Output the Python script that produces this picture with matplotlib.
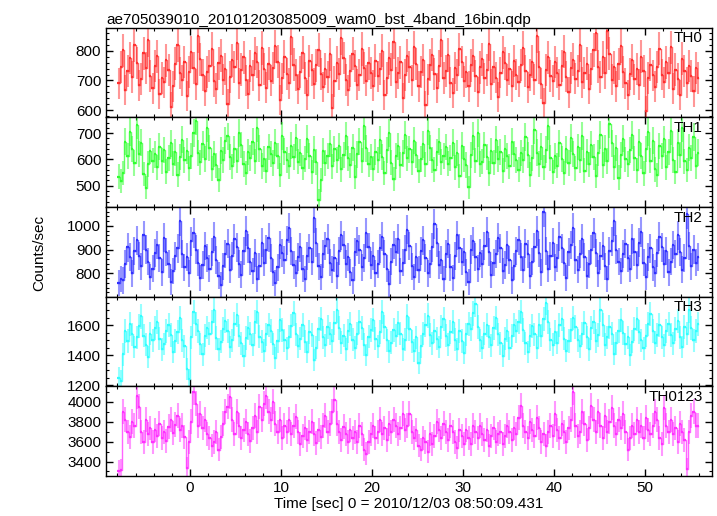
"""
WAM burst light curve, 4 energy bands + sum (QDP-style stacked panels).
"""

import matplotlib

matplotlib.use("Agg")
import matplotlib.pyplot as plt  # noqa: E402
import numpy as np  # noqa: E402
from matplotlib.ticker import MultipleLocator  # noqa: E402

plt.rcParams["font.family"] = ["Liberation Sans", "DejaVu Sans"]

TITLE = "ae705039010_20101203085009_wam0_bst_4band_16bin.qdp"
XLABEL = "Time [sec] 0 = 2010/12/03 08:50:09.431"
YLABEL = "Counts/sec"

dt = 0.25
t0 = -7.875  # centre of first bin

bands = ["TH0", "TH1", "TH2", "TH3", "TH0123"]

th0 = [
    690, 745, 802, 668, 731, 776, 712, 820, 759, 684, 705, 792, 741, 838, 716, 673,
    748, 782, 655, 709, 694, 768, 735, 612, 680, 757, 819, 726, 701, 763, 649, 728,
    795, 743, 688, 852, 771, 719, 664, 730, 749, 806, 697, 672, 758, 784, 703, 739,
    621, 712, 768, 745, 826, 690, 737, 779, 701, 655, 748, 717, 792, 763, 684, 810,
    738, 676, 757, 699, 742, 815, 764, 633, 707, 781, 722, 690, 846, 754, 718, 671,
    729, 794, 708, 650, 766, 735, 689, 751, 803, 722, 678, 740, 712, 788, 606, 697,
    760, 721, 843, 776, 702, 667, 733, 791, 748, 685, 719, 806, 742, 699, 758, 724,
    683, 767, 714, 739, 801, 652, 708, 775, 737, 829, 694, 726, 761, 640, 718, 783,
    745, 700, 812, 756, 681, 730, 769, 616, 704, 752, 787, 722, 675, 749, 838, 709,
    733, 786, 692, 658, 741, 719, 805, 763, 697, 728, 680, 751, 784, 716, 662, 744,
    771, 707, 735, 824, 688, 746, 710, 643, 727, 795, 758, 702, 739, 681, 766, 720,
    696, 752, 810, 731, 677, 718, 764, 703, 850, 744, 689, 625, 736, 778, 715, 698,
    762, 727, 685, 749, 798, 713, 660, 741, 770, 706, 733, 819, 694, 726, 757, 671,
    738, 804, 860, 747, 712, 779, 725, 866, 790, 703, 744, 681, 756, 817, 729, 690,
    651, 723, 768, 704, 739, 686, 781, 732, 598, 709, 754, 717, 679, 746, 808, 720,
    694, 761, 726, 812, 672, 737, 705, 650, 774, 731, 692, 750, 716, 663, 742, 708,
]

th1 = [
    535, 518, 548, 668, 612, 703, 640, 587, 731, 621, 664, 545, 492, 583, 632, 596,
    619, 571, 648, 594, 636, 553, 607, 661, 584, 627, 542, 610, 676, 598, 633, 566,
    612, 702, 748, 625, 589, 657, 601, 719, 643, 564, 620, 578, 521, 634, 598, 671,
    688, 610, 574, 639, 596, 702, 655, 583, 548, 629, 606, 667, 593, 720, 641, 575,
    603, 558, 647, 621, 586, 664, 612, 541, 689, 630, 598, 575, 652, 609, 683, 592,
    626, 569, 601, 678, 615, 552, 637, 590, 446, 521, 633, 587, 612, 659, 574, 640,
    597, 651, 563, 616, 690, 604, 578, 645, 532, 619, 667, 596, 728, 642, 581, 608,
    565, 629, 597, 674, 611, 549, 636, 702, 588, 527, 615, 650, 579, 623, 694, 604,
    638, 591, 672, 617, 556, 603, 658, 582, 710, 644, 599, 561, 627, 668, 590, 613,
    647, 584, 606, 663, 571, 624, 536, 652, 601, 579, 494, 618, 689, 596, 702, 583,
    592, 655, 609, 547, 633, 588, 676, 603, 628, 558, 641, 612, 574, 668, 621, 597,
    561, 624, 598, 685, 616, 542, 607, 711, 626, 583, 649, 571, 637, 728, 605, 552,
    614, 577, 662, 603, 548, 639, 586, 681, 620, 566, 647, 598, 690, 557, 628, 582,
    656, 611, 538, 625, 693, 579, 641, 595, 735, 662, 571, 644, 531, 618, 679, 600,
    583, 636, 694, 604, 559, 666, 613, 547, 640, 705, 596, 672, 562, 540, 651, 615,
    677, 571, 629, 708, 598, 552, 664, 617, 721, 593, 560, 645, 606, 686, 574, 626,
]

th2 = [
    760, 775, 770, 840, 910, 870, 800, 895, 940, 875, 830, 960, 900, 850, 785, 820,
    885, 920, 865, 805, 950, 890, 840, 765, 810, 875, 905, 1020, 880, 825, 870, 800,
    935, 970, 900, 845, 780, 835, 915, 865, 820, 890, 955, 855, 790, 750, 830, 880,
    925, 815, 875, 945, 910, 840, 795, 895, 980, 905, 850, 810, 885, 775, 830, 930,
    845, 900, 950, 865, 805, 760, 825, 920, 885, 855, 940, 990, 895, 835, 800, 870,
    910, 820, 775, 875, 905, 850, 1035, 930, 830, 785, 880, 915, 945, 845, 815, 865,
    790, 895, 960, 920, 840, 870, 805, 770, 890, 935, 900, 825, 865, 970, 910, 835,
    875, 800, 840, 905, 955, 880, 820, 755, 850, 920, 890, 945, 810, 845, 900, 985,
    915, 830, 785, 870, 815, 895, 940, 865, 800, 840, 910, 1010, 930, 835, 855, 775,
    880, 925, 825, 780, 875, 960, 905, 850, 890, 805, 765, 900, 935, 870, 820, 885,
    840, 915, 975, 890, 795, 845, 880, 950, 905, 810, 835, 920, 855, 770, 830, 895,
    940, 870, 815, 925, 880, 790, 850, 910, 980, 885, 805, 1060, 895, 820, 875, 930,
    825, 865, 955, 905, 845, 780, 890, 920, 990, 855, 815, 880, 945, 870, 790, 840,
    900, 970, 885, 800, 875, 915, 830, 775, 895, 935, 1020, 900, 850, 810, 880, 925,
    865, 820, 945, 890, 835, 930, 975, 845, 785, 870, 905, 825, 800, 885, 955, 910,
    840, 895, 805, 850, 920, 880, 960, 890, 815, 865, 1050, 915, 830, 900, 845, 870,
]

th3 = [
    1250, 1230, 1405, 1560, 1495, 1610, 1540, 1455, 1520, 1595, 1660, 1530, 1470, 1390, 1545, 1500,
    1580, 1625, 1510, 1440, 1475, 1560, 1600, 1535, 1420, 1495, 1555, 1650, 1500, 1460, 1310, 1240,
    1520, 1690, 1610, 1560, 1475, 1405, 1530, 1585, 1545, 1620, 1700, 1515, 1440, 1490, 1575, 1630,
    1560, 1455, 1500, 1610, 1670, 1530, 1480, 1395, 1515, 1580, 1545, 1470, 1620, 1690, 1525, 1490,
    1430, 1540, 1605, 1560, 1475, 1380, 1495, 1635, 1570, 1500, 1445, 1525, 1595, 1680, 1540, 1460,
    1510, 1600, 1490, 1420, 1555, 1535, 1370, 1450, 1575, 1640, 1520, 1465, 1590, 1545, 1495, 1615,
    1700, 1580, 1485, 1530, 1440, 1560, 1610, 1505, 1450, 1545, 1625, 1580, 1470, 1400, 1525, 1570,
    1635, 1510, 1460, 1555, 1690, 1590, 1500, 1425, 1485, 1570, 1530, 1615, 1545, 1440, 1505, 1660,
    1575, 1490, 1430, 1520, 1350, 1460, 1545, 1600, 1665, 1535, 1480, 1560, 1510, 1455, 1590, 1640,
    1530, 1470, 1555, 1620, 1505, 1440, 1560, 1495, 1415, 1540, 1610, 1575, 1680, 1740, 1590, 1500,
    1450, 1545, 1600, 1525, 1465, 1580, 1650, 1540, 1480, 1395, 1510, 1565, 1445, 1530, 1605, 1560,
    1625, 1690, 1570, 1480, 1420, 1530, 1595, 1540, 1450, 1600, 1530, 1640, 1750, 1620, 1505, 1470,
    1555, 1485, 1600, 1640, 1510, 1430, 1495, 1570, 1650, 1590, 1500, 1460, 1545, 1615, 1520, 1440,
    1580, 1625, 1495, 1535, 1705, 1600, 1470, 1520, 1590, 1545, 1410, 1480, 1560, 1635, 1550, 1475,
    1520, 1400, 1490, 1575, 1640, 1555, 1500, 1445, 1530, 1610, 1675, 1560, 1485, 1535, 1600, 1520,
    1465, 1560, 1610, 1535, 1480, 1575, 1630, 1520, 1455, 1590, 1545, 1700, 1580, 1500, 1560, 1610,
]

th0123 = [
    3300, 3310, 3900, 3820, 3700, 3650, 3800, 3760, 4060, 3950, 3700, 3600, 3820, 3680, 3740, 3600,
    3720, 3660, 3780, 3640, 3700, 3610, 3750, 3820, 3690, 3770, 3860, 3720, 3760, 3650, 3330, 3600,
    3800, 4100, 3980, 3760, 3880, 3740, 3820, 3680, 3640, 3560, 3600, 3700, 3520, 3650, 3780, 3900,
    3950, 4050, 3820, 3680, 3900, 3760, 3640, 3720, 3800, 3680, 3610, 3740, 3860, 3700, 3950, 3820,
    3980, 4060, 3900, 3820, 4000, 3780, 3700, 3820, 3640, 3760, 3700, 3820, 3680, 3760, 3850, 3700,
    3580, 3660, 3740, 3620, 3700, 3800, 3680, 3590, 3720, 3650, 3760, 3860, 3700, 3780, 3900, 4020,
    3780, 3700, 3620, 3750, 3680, 3600, 3720, 3640, 3700, 3600, 3760, 3680, 3520, 3480, 3600, 3680,
    3760, 3640, 3700, 3820, 3680, 3740, 3620, 3780, 3700, 3820, 3760, 3680, 3740, 3880, 3720, 3760,
    3880, 3700, 3640, 3720, 3560, 3520, 3640, 3600, 3500, 3680, 3580, 3660, 3800, 3720, 3640, 3780,
    3700, 3620, 3760, 3700, 3600, 3540, 3720, 3660, 3580, 3720, 3640, 3580, 3760, 3700, 3640, 3760,
    3680, 3620, 3720, 3560, 3660, 3740, 3600, 3680, 3700, 3580, 3660, 3760, 3700, 3620, 3740, 3680,
    3840, 3960, 3760, 3700, 3640, 3800, 3720, 3660, 3840, 3740, 3600, 3680, 3560, 3700, 3760, 3660,
    3880, 3720, 3640, 3780, 3700, 3600, 3740, 3820, 4100, 3760, 3660, 3700, 3900, 3780, 3620, 3740,
    3960, 3820, 3700, 3900, 3760, 3640, 3860, 3700, 3800, 3940, 3760, 3680, 3820, 3740, 3880, 3700,
    3520, 3640, 3760, 3680, 3820, 3700, 3760, 3640, 3840, 3720, 3680, 3760, 3900, 3820, 3640, 3580,
    3940, 3760, 3700, 3820, 3680, 3740, 3600, 3780, 3700, 3620, 3320, 3700, 3860, 3900, 3760, 3760,
]

series = [th0, th1, th2, th3, th0123]
colors = ["#ff3030", "#30ff30", "#3030ff", "#30ffff", "#ff30ff"]
ylims = [(575, 878), (419, 760), (702, 1080), (1193, 1792), (3257, 4157)]
ymajor = [100, 100, 100, 200, 200]
yminor = [20, 20, 20, 50, 100]

fig, axes = plt.subplots(5, 1, sharex=True, figsize=(7.17, 5.16), dpi=100)
fig.subplots_adjust(left=0.148, right=0.993, top=0.946, bottom=0.078, hspace=0)

for ax, name, y, c, yl, ma, mi in zip(axes, bands, series, colors, ylims, ymajor, yminor):
    y = np.array(y, dtype=float)
    t = t0 + dt * np.arange(len(y))
    err = np.sqrt(y / dt)
    ax.errorbar(t, y, yerr=err, fmt="none", ecolor=c, elinewidth=1.5, alpha=0.5)
    ax.errorbar(t, y, xerr=dt / 2, fmt="none", ecolor=c, elinewidth=1.6)
    ax.step(t, y, where="mid", color=c, lw=1.0, alpha=0.75)
    ax.set_ylim(*yl)
    ax.yaxis.set_major_locator(MultipleLocator(ma))
    ax.yaxis.set_minor_locator(MultipleLocator(mi))
    ax.xaxis.set_major_locator(MultipleLocator(10))
    ax.xaxis.set_minor_locator(MultipleLocator(2))
    ax.tick_params(which="both", direction="in", top=True, right=True,
                   labelsize=11, color="black")
    ax.tick_params(which="major", length=5, width=1)
    ax.tick_params(which="minor", length=2.5, width=0.8)
    for sp in ax.spines.values():
        sp.set_linewidth(1.0)
    ax.text(0.985, 0.96, name, transform=ax.transAxes, ha="right", va="top",
            fontsize=11)

axes[-1].set_xlim(-9.24, 57.4)
axes[-1].set_xlabel(XLABEL, fontsize=11, labelpad=2)
axes[0].set_title(TITLE, loc="left", fontsize=11, pad=3)
fig.text(0.055, 0.51, YLABEL, rotation=90, ha="center", va="center", fontsize=11)

fig.savefig("out.png", dpi=100)
plt.close(fig)
